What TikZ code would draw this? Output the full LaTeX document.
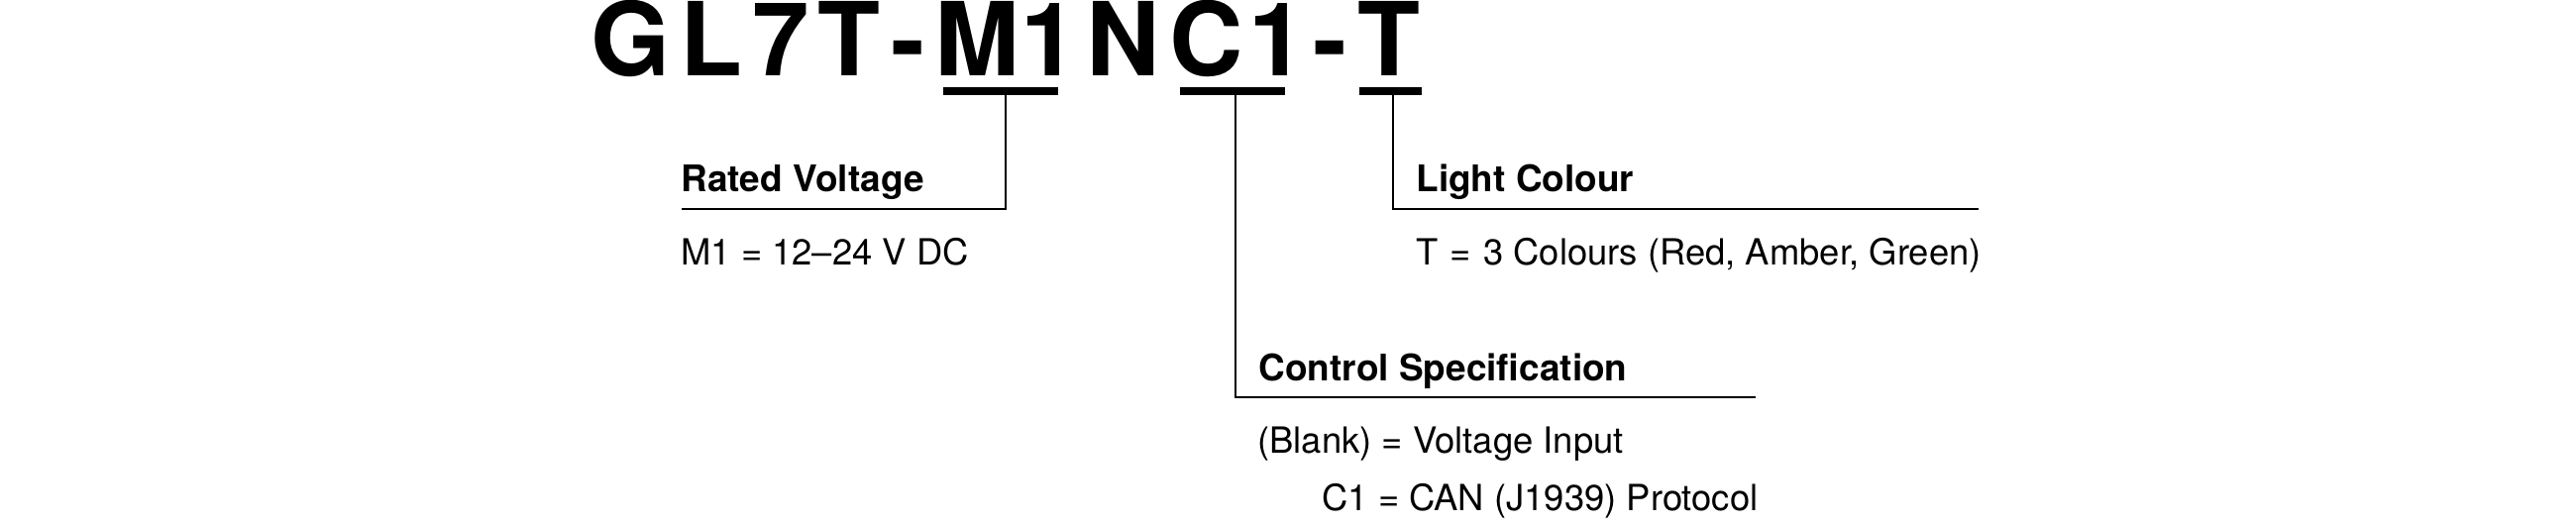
\documentclass[tikz,border=0pt]{standalone}
\usepackage{fontspec}
\setmainfont{TeX Gyre Heros}
\begin{document}
\begin{tikzpicture}[x=0.5pt,y=-0.5pt,
  codefont/.style={anchor=base west,inner sep=0pt,font=\fontsize{51.5}{60}\selectfont\bfseries},
  lbl/.style={anchor=base west,inner sep=0pt,font=\fontsize{18.5}{22}\selectfont\bfseries},
  val/.style={anchor=base west,inner sep=0pt,font=\fontsize{18.2}{22}\selectfont},
  bar/.style={fill=black,inner sep=0pt,minimum height=4pt},
  leader/.style={draw=black,line width=1pt}]
\useasboundingbox (0,0) rectangle (2600,530);
% model code
\node[codefont] (code) at (596.5,76)
  {G\kern4.8pt L\kern5pt 7\kern4.6pt T\kern5.1pt -\kern4.95pt M\kern0.6pt 1\kern4.35pt N\kern5.1pt C\kern2.5pt 1\kern3.75pt -\kern5.8pt T};
% underline bars
\node[bar,minimum width=58pt] (barM) at (1010,92) {};
\node[bar,minimum width=53pt] (barC) at (1244,92) {};
\node[bar,minimum width=31.5pt] (barT) at (1403.5,92) {};
% leader corners and ends
\coordinate (rvK) at (1015,211);
\coordinate (rvE) at (688,211);
\coordinate (csK) at (1247,401);
\coordinate (csE) at (1772,401);
\coordinate (lcK) at (1406,211);
\coordinate (lcE) at (1997,211);
% texts
\node[lbl] (rated) at (687,193) {Rated Voltage};
\node[val] (ratedv) at (687,267) {M1 = 12–24 V DC};
\node[lbl] (light) at (1429,193) {Light Colour};
\node[val] (lightv) at (1429,267) {T \kern1pt=\kern1pt{} 3 Colours (Red, Amber, Green)};
\node[lbl] (ctrl) at (1270,384) {Control Specification};
\node[val] (ctrlv1) at (1269,457) {(Blank) = Voltage Input};
\node[val] (ctrlv2) at (1334,515) {C1 = CAN (J1939) Protocol};
% leaders
\draw[leader] (barM.south -| rvK) -- (rvK) -- (rvE);
\draw[leader] (barC.south -| csK) -- (csK) -- (csE);
\draw[leader] (barT.south -| lcK) -- (lcK) -- (lcE);
\end{tikzpicture}
\end{document}
